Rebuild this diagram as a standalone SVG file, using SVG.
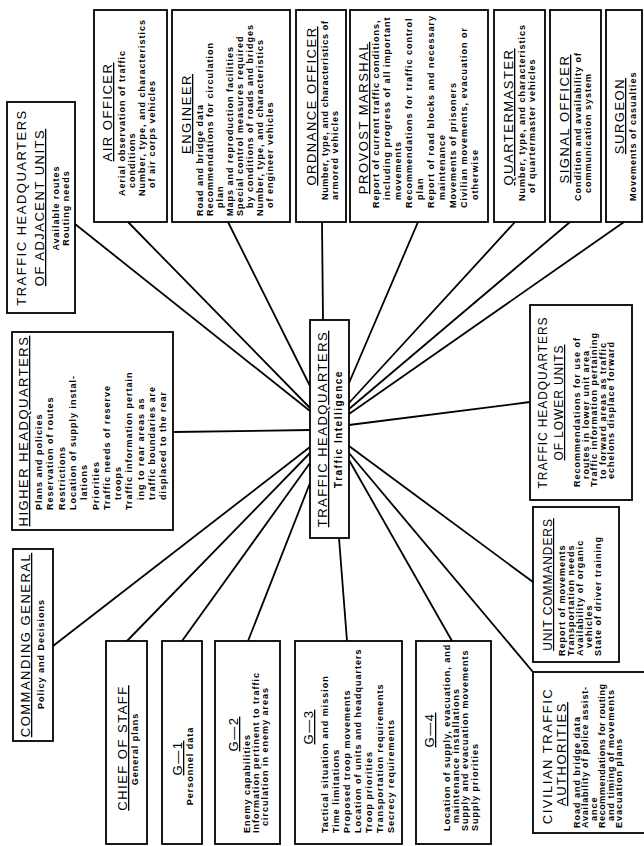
<svg xmlns="http://www.w3.org/2000/svg" width="644" height="846" viewBox="0 0 644 846">
<style>
.bx{fill:#fff;stroke:#000;stroke-width:1.8}
text{font-family:"Liberation Sans",Arial,sans-serif;fill:#000}
.h{font-size:13px;letter-spacing:1.5px}
.hs{font-size:12px;letter-spacing:0.9px}
.u{text-decoration:underline}
.b{font-size:9px;font-weight:bold;letter-spacing:1px}
.bc{font-size:10px;font-weight:bold;letter-spacing:1.5px}
.c{text-anchor:middle}
#connectors line{stroke:#000;stroke-width:1.8}
</style>
<rect width="644" height="846" fill="#fff"/>
<g id="connectors">
<line x1="75" y1="224" x2="310" y2="411"/>
<line x1="128" y1="222" x2="310" y2="408"/>
<line x1="228" y1="222" x2="310" y2="386"/>
<line x1="322" y1="222" x2="323" y2="320"/>
<line x1="418" y1="222" x2="349" y2="383"/>
<line x1="515" y1="222" x2="349" y2="403"/>
<line x1="570" y1="222" x2="349" y2="409"/>
<line x1="624" y1="222" x2="349" y2="414"/>
<line x1="530" y1="402" x2="349" y2="425"/>
<line x1="173" y1="432" x2="310" y2="430"/>
<line x1="53" y1="646" x2="310" y2="447"/>
<line x1="127" y1="641" x2="310" y2="453"/>
<line x1="182" y1="641" x2="310" y2="463"/>
<line x1="248" y1="641" x2="310" y2="483"/>
<line x1="339" y1="538" x2="347" y2="641"/>
<line x1="349" y1="446" x2="533" y2="582"/>
<line x1="349" y1="453" x2="533" y2="672"/>
<line x1="349" y1="460" x2="452" y2="641"/>
</g>

<g id="adjacent-units" transform="translate(7,313) rotate(-90)">
<rect class="bx" x="0" y="0" width="211" height="68"/>
<text class="h c" x="105.5" y="19">TRAFFIC HEADQUARTERS</text>
<text class="h c u" x="105.5" y="37">OF ADJACENT UNITS</text>
<text class="b c" x="105" y="52">Available routes</text>
<text class="b c" x="105" y="62">Routing needs</text>
</g>

<g id="air-officer" transform="translate(94,222) rotate(-90)">
<rect class="bx" x="0" y="0" width="212" height="73"/>
<text class="h c u" x="110" y="18">AIR OFFICER</text>
<text class="b" x="26" y="31">Aerial observation of traffic</text>
<text class="b" x="34" y="41">conditions</text>
<text class="b" x="26" y="51">Number, type, and characteristics</text>
<text class="b" x="34" y="61">of air corps vehicles</text>
</g>

<g id="engineer" transform="translate(172,222) rotate(-90)">
<rect class="bx" x="0" y="0" width="212" height="118"/>
<text class="h c u" x="108" y="19">ENGINEER</text>
<text class="b" x="6" y="31">Road and bridge data</text>
<text class="b" x="6" y="41">Recommendations for circulation</text>
<text class="b" x="14" y="51">plan</text>
<text class="b" x="6" y="61">Maps and reproduction facilities</text>
<text class="b" x="6" y="71">Special control measures required</text>
<text class="b" x="14" y="81">by conditions of roads and bridges</text>
<text class="b" x="6" y="91">Number, type, and characteristics</text>
<text class="b" x="14" y="101">of engineer vehicles</text>
</g>

<g id="ordnance-officer" transform="translate(296,222) rotate(-90)">
<rect class="bx" x="0" y="0" width="212" height="50"/>
<text class="h c u" x="116" y="20">ORDNANCE OFFICER</text>
<text class="b" x="22" y="32" textLength="180" lengthAdjust="spacing">Number, type, and characteristics of</text>
<text class="b" x="22" y="42">armored vehicles</text>
</g>

<g id="provost-marshal" transform="translate(350,222) rotate(-90)">
<rect class="bx" x="0" y="0" width="212" height="138"/>
<text class="h c u" x="104" y="18">PROVOST MARSHAL</text>
<text class="b" x="14" y="29">Report of current traffic conditions,</text>
<text class="b" x="22" y="40">including progress of all important</text>
<text class="b" x="22" y="51">movements</text>
<text class="b" x="14" y="62">Recommendations for traffic control</text>
<text class="b" x="22" y="73">plan</text>
<text class="b" x="14" y="84">Report of road blocks and necessary</text>
<text class="b" x="22" y="95">maintenance</text>
<text class="b" x="14" y="106">Movements of prisoners</text>
<text class="b" x="14" y="117">Civilian movements, evacuation or</text>
<text class="b" x="22" y="128">otherwise</text>
</g>

<g id="quartermaster" transform="translate(494,222) rotate(-90)">
<rect class="bx" x="0" y="0" width="212" height="51"/>
<text class="h c u" x="105" y="19">QUARTERMASTER</text>
<text class="b" x="21" y="31">Number, type, and characteristics</text>
<text class="b" x="29" y="41">of quartermaster vehicles</text>
</g>

<g id="signal-officer" transform="translate(550,222) rotate(-90)">
<rect class="bx" x="0" y="0" width="212" height="51"/>
<text class="h c u" x="103" y="19">SIGNAL OFFICER</text>
<text class="b" x="21" y="31">Condition and availability of</text>
<text class="b" x="29" y="41">communication system</text>
</g>

<g id="surgeon" transform="translate(606,222) rotate(-90)">
<rect class="bx" x="0" y="0" width="212" height="36"/>
<text class="h c u" x="106" y="18">SURGEON</text>
<text class="b" x="21" y="30">Movements of casualties</text>
</g>

<g id="higher-headquarters" transform="translate(12,530) rotate(-90)">
<rect class="bx" x="0" y="0" width="198" height="161"/>
<text class="h c u" x="99" y="16">HIGHER HEADQUARTERS</text>
<text class="b" x="20" y="30">Plans and policies</text>
<text class="b" x="20" y="41.3">Reservation of routes</text>
<text class="b" x="20" y="52.6">Restrictions</text>
<text class="b" x="20" y="63.9">Location of supply instal-</text>
<text class="b" x="30" y="75.2">lations</text>
<text class="b" x="20" y="86.5">Priorities</text>
<text class="b" x="20" y="97.8">Traffic needs of reserve</text>
<text class="b" x="30" y="109.1">troops</text>
<text class="b" x="20" y="120.4">Traffic information pertain</text>
<text class="b" x="30" y="131.7">ing to rear areas as</text>
<text class="b" x="30" y="143">traffic boundaries are</text>
<text class="b" x="30" y="154.3">displaced to the rear</text>
</g>

<g id="traffic-headquarters" transform="translate(310,538) rotate(-90)">
<rect class="bx" x="0" y="0" width="218" height="39"/>
<text class="h c u" x="109" y="17">TRAFFIC HEADQUARTERS</text>
<text class="bc c" x="109" y="32">Traffic Intelligence</text>
</g>

<g id="lower-units" transform="translate(530,500) rotate(-90)">
<rect class="bx" x="0" y="0" width="195" height="102"/>
<text class="hs c" x="97.5" y="17">TRAFFIC HEADQUARTERS</text>
<text class="hs c u" x="97.5" y="33">OF LOWER UNITS</text>
<text class="b" x="13" y="50">Recommendations for use of</text>
<text class="b" x="21" y="58.5">routes in lower unit area</text>
<text class="b" x="13" y="67">Traffic information pertaining</text>
<text class="b" x="21" y="75.5">to forward areas as traffic</text>
<text class="b" x="21" y="84">echelons displace forward</text>
</g>

<g id="unit-commanders" transform="translate(533,662) rotate(-90)">
<rect class="bx" x="0" y="0" width="155" height="86"/>
<text class="hs c u" x="77.5" y="19">UNIT COMMANDERS</text>
<text class="b" x="6" y="32">Report of movements</text>
<text class="b" x="6" y="41">Transportation needs</text>
<text class="b" x="6" y="50">Availability of organic</text>
<text class="b" x="14" y="59">vehicles</text>
<text class="b" x="6" y="68">State of driver training</text>
</g>

<g id="civilian-traffic-authorities" transform="translate(533,833) rotate(-90)">
<rect class="bx" x="0" y="0" width="161" height="114"/>
<text class="h c" x="77" y="19">CIVILIAN TRAFFIC</text>
<text class="h c u" x="79" y="33">AUTHORITIES</text>
<text class="b" x="5" y="47">Road and bridge data</text>
<text class="b" x="5" y="55" textLength="142" lengthAdjust="spacing">Availability of police assist-</text>
<text class="b" x="12" y="63.5">ance</text>
<text class="b" x="5" y="72" textLength="145" lengthAdjust="spacing">Recommendations for routing</text>
<text class="b" x="12" y="80.5">and timing of movements</text>
<text class="b" x="5" y="89">Evacuation plans</text>
</g>

<g id="commanding-general" transform="translate(13,741) rotate(-90)">
<rect class="bx" x="0" y="0" width="192" height="40"/>
<text class="h c u" x="96" y="17">COMMANDING GENERAL</text>
<text class="b c" x="87" y="31">Policy and Decisions</text>
</g>

<g id="chief-of-staff" transform="translate(106,844) rotate(-90)">
<rect class="bx" x="0" y="0" width="203" height="41"/>
<text class="h c u" x="96" y="21">CHIEF OF STAFF</text>
<text class="b c" x="95" y="32">General plans</text>
</g>

<g id="g1" transform="translate(162,844) rotate(-90)">
<rect class="bx" x="0" y="0" width="203" height="40"/>
<text class="h c u" x="86" y="20">G—1</text>
<text class="b c" x="78" y="31">Personnel data</text>
</g>

<g id="g2" transform="translate(215,844) rotate(-90)">
<rect class="bx" x="0" y="0" width="203" height="65"/>
<text class="h c u" x="110" y="23">G—2</text>
<text class="b" x="11" y="35">Enemy capabilities</text>
<text class="b" x="11" y="44">Information pertinent to traffic</text>
<text class="b" x="18" y="53">circulation in enemy areas</text>
</g>

<g id="g3" transform="translate(295,844) rotate(-90)">
<rect class="bx" x="0" y="0" width="203" height="107"/>
<text class="h c u" x="117" y="18">G—3</text>
<text class="b" x="11" y="33">Tactical situation and mission</text>
<text class="b" x="11" y="44">Time limitations</text>
<text class="b" x="11" y="55">Proposed troop movements</text>
<text class="b" x="11" y="66">Location of units and headquarters</text>
<text class="b" x="11" y="77">Troop priorities</text>
<text class="b" x="11" y="88">Transportation requirements</text>
<text class="b" x="11" y="99">Secrecy requirements</text>
</g>

<g id="g4" transform="translate(416,844) rotate(-90)">
<rect class="bx" x="0" y="0" width="203" height="75"/>
<text class="h c u" x="114" y="18">G—4</text>
<text class="b" x="13" y="34">Location of supply, evacuation, and</text>
<text class="b" x="21" y="43">maintenance installations</text>
<text class="b" x="13" y="52">Supply and evacuation movements</text>
<text class="b" x="13" y="62">Supply priorities</text>
</g>
</svg>
